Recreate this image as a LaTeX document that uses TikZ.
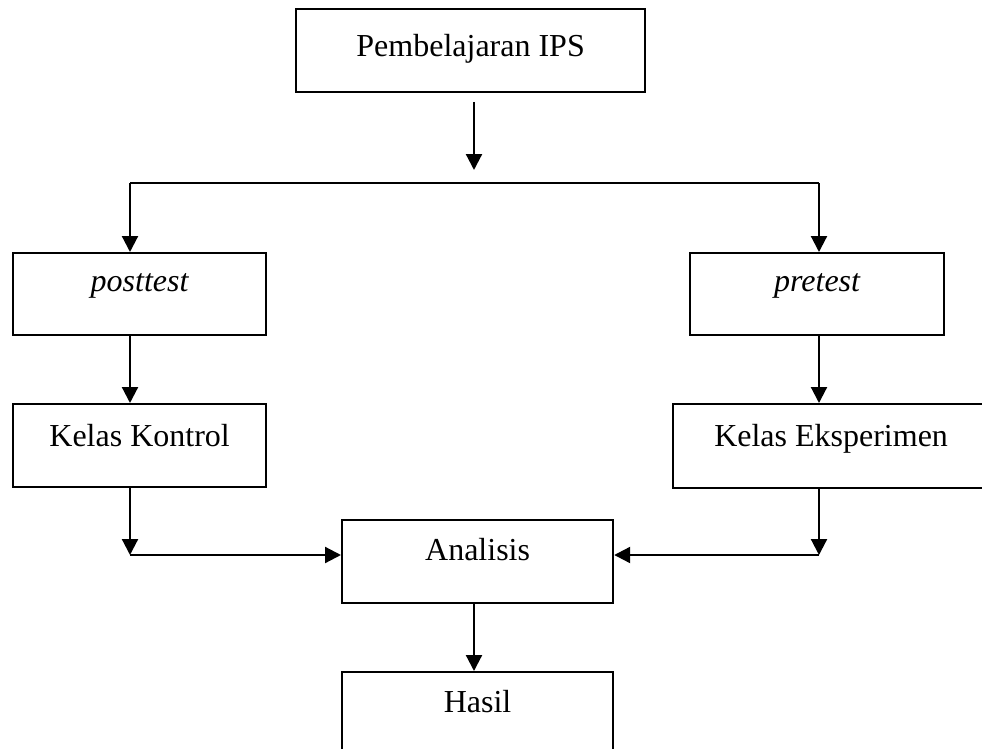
\documentclass[tikz,border=0pt]{standalone}
\usepackage{fontspec}
\setmainfont{Liberation Serif}
\usetikzlibrary{arrows.meta}
\tikzset{
  box/.style={draw, line width=2.2pt, rectangle, inner sep=0pt, anchor=north west,
    font=\fontsize{32}{38}\selectfont},
  conn/.style={line width=2.2pt},
  arr/.style={line width=2.2pt, -{Triangle[width=16pt,length=16pt]}}
}
\begin{document}
\begin{tikzpicture}[x=1pt,y=-1pt]
\useasboundingbox (0,0) rectangle (982,749);
\node[box, minimum width=349pt, text height=47pt, text depth=36pt] (pem) at (295,8) {Pembelajaran IPS};
\node[box, minimum width=253pt, text height=38pt, text depth=44pt] (post) at (12,252) {\itshape posttest};
\node[box, minimum width=254pt, text height=38pt, text depth=44pt] (pre) at (689,252) {\itshape pretest};
\node[box, minimum width=253pt, text height=42pt, text depth=41pt] (kk) at (12,403) {Kelas Kontrol};
\node[box, minimum width=316pt, text height=42pt, text depth=42pt] (ke) at (672,403) {Kelas Eksperimen};
\node[box, minimum width=271pt, text height=40pt, text depth=43pt] (ana) at (341,519) {Analisis};
\node[box, minimum width=271pt, text height=40pt, text depth=43pt] (has) at (341,671) {Hasil};
\coordinate (t1) at (474,102);
\coordinate (t2) at (474,170);
\coordinate (jl) at (130,183);
\coordinate (jr) at (819,183);
\coordinate (bl) at (130,555);
\coordinate (br) at (819,555);
\draw[arr] (t1) -- (t2);
\draw[conn] (jl) -- (jr);
\draw[arr] (jl) -- (jl |- post.north);
\draw[arr] (jr) -- (jr |- pre.north);
\draw[arr] (jl |- post.south) -- (jl |- kk.north);
\draw[arr] (jr |- pre.south) -- (jr |- ke.north);
\draw[arr] (jl |- kk.south) -- (bl);
\draw[arr] (jr |- ke.south) -- (br);
\draw[arr] (bl) -- (bl -| ana.west);
\draw[arr] (br) -- (br -| ana.east);
\draw[arr] (ana.south -| t1) -- (has.north -| t1);
\end{tikzpicture}
\end{document}
